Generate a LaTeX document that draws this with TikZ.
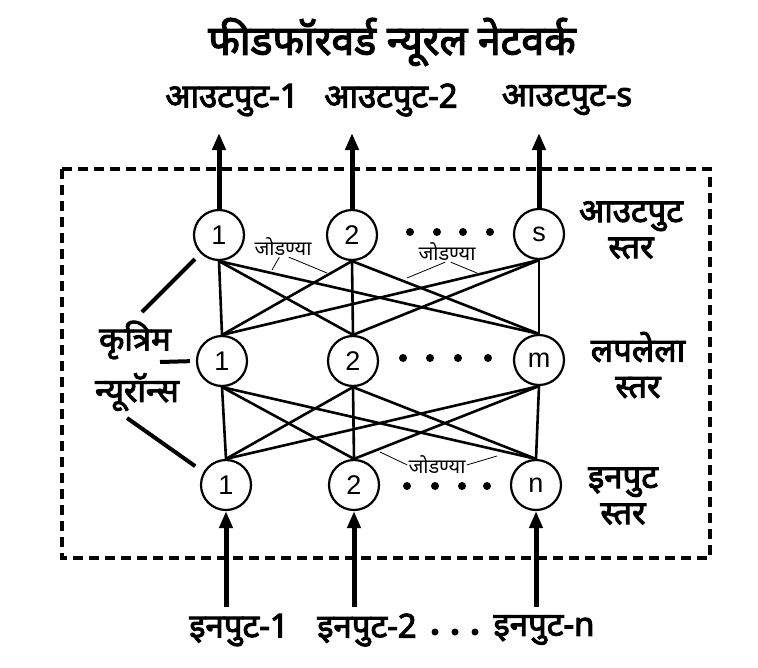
\documentclass[tikz,border=0pt]{standalone}
\usepackage{fontspec}
\setmainfont{Noto Sans}[Script=Devanagari,BoldFont=Noto Sans,BoldFeatures={FakeBold=3}]
\newfontfamily\digitfont{Liberation Sans}
\usetikzlibrary{arrows.meta}

\begin{document}
\begin{tikzpicture}[x=1pt,y=-1pt,
		main node/.style={circle,draw,line width=2.2pt,minimum size=50pt,inner sep=0pt,font=\digitfont\fontsize{27}{27}\selectfont},
		big label/.style={font=\bfseries\fontsize{33}{33}\selectfont,inner sep=0pt},
		layer label/.style={font=\bfseries\fontsize{33}{36}\selectfont,align=center,inner sep=0pt},
		small label/.style={font=\fontsize{20}{20}\selectfont,inner sep=1pt},
		link/.style={line width=2.6pt},
		thin link/.style={line width=0.8pt},
		io arrow/.style={-{Triangle[length=17pt,width=13pt]},line width=5pt},
		pointer/.style={line width=4pt}]
		
		\useasboundingbox (0,0) rectangle (758,667);
		
		% frame
		\draw[line width=4.5pt,dash pattern=on 10pt off 6pt] (62,169) rectangle (710,558);
		
		\node[font=\bfseries\fontsize{41}{41}\selectfont] (title) at (392,42) {फीडफॉरवर्ड न्यूरल नेटवर्क};
		
		% neurons
		\node[main node] (o1) at (219,235) {1};
		\node[main node] (o2) at (352,235) {2};
		\node[main node] (os) at (539,234) {s};
		\node[main node] (h1) at (222,361) {1};
		\node[main node] (h2) at (353,361) {2};
		\node[main node] (hm) at (539,360) {m};
		\node[main node] (i1) at (226,485) {1};
		\node[main node] (i2) at (354,485) {2};
		\node[main node] (iN) at (536,485) {n};
		
		\fill (410,232) circle (4pt) (437,232) circle (4pt) (463,232) circle (4pt) (490,232) circle (4pt);
		\fill (403,358) circle (4pt) (430,358) circle (4pt) (458,358) circle (4pt) (488,358) circle (4pt);
		\fill (407,486) circle (4pt) (435,486) circle (4pt) (462,486) circle (4pt) (487,486) circle (4pt);
		
		\path[link]
		(o1.south) edge (h1.north)
		(o1.south) edge (h2.north)
		(o1.south) edge (hm.north)
		(o2.south) edge (h1.north)
		(o2.south) edge (h2.north)
		(o2.south) edge (hm.north)
		(os.south) edge (h1.north)
		(os.south) edge (h2.north)
		(os.south) edge (hm.north)
		(h1.south) edge (i1.north)
		(h1.south) edge (i2.north)
		(h1.south) edge (iN.north)
		(h2.south) edge (i1.north)
		(h2.south) edge (i2.north)
		(h2.south) edge (iN.north)
		(hm.south) edge (i1.north)
		(hm.south) edge (i2.north)
		(hm.south) edge (iN.north);
		
		% outputs and inputs
		\node[big label] (ol1) at (232,100) {आउटपुट-1};
		\node[big label] (ol2) at (391,100) {आउटपुट-2};
		\node[big label] (ols) at (567,100) {आउटपुट-s};
		\coordinate (out1) at (219,133);
		\coordinate (out2) at (352,133);
		\coordinate (outs) at (539,133);
		\draw[io arrow] (o1.north) -- (out1);
		\draw[io arrow] (o2.north) -- (out2);
		\draw[io arrow] (os.north) -- (outs);
		
		\node[big label] (il1) at (239,630) {इनपुट-1};
		\node[big label] (il2) at (367,630) {इनपुट-2};
		\node[big label] (ilN) at (544,630) {इनपुट-n};
		\fill (435,632) circle (3.5pt) (455,632) circle (3.5pt) (475,632) circle (3.5pt);
		\coordinate (in1) at (226,607);
		\coordinate (in2) at (354,607);
		\coordinate (inN) at (536,607);
		\draw[io arrow] (in1) -- (i1.south);
		\draw[io arrow] (in2) -- (i2.south);
		\draw[io arrow] (inN) -- (iN.south);
		
		% layer names
		\node[layer label] (lo) at (631,230) {आउटपुट\\स्तर};
		\node[layer label] (lh) at (638,365) {लपलेला\\स्तर};
		\node[layer label] (li) at (623,496) {इनपुट\\स्तर};
		
		% artificial neurons
		\node[big label] (kr) at (135,340) {कृत्रिम};
		\node[big label] (ny) at (137,392) {न्यूरॉन्स};
		\coordinate (p1) at (142,312);
		\coordinate (p2) at (160,362);
		\coordinate (p3) at (127,418);
		\draw[pointer,shorten >=8pt] (p1) -- (o1.225);
		\draw[pointer,shorten >=6pt] (p2) -- (h1.west);
		\draw[pointer,shorten >=10pt] (p3) -- (i1.150);
		
		% connections
		\node[small label] (j1) at (283,247) {जोडण्या};
		\node[small label] (j2) at (447,252) {जोडण्या};
		\node[small label] (j3) at (437,465) {जोडण्या};
		\coordinate (j1a) at (272,270);
		\coordinate (j1b) at (327,273);
		\coordinate (j2a) at (407,278);
		\coordinate (j2b) at (477,273);
		\coordinate (j3a) at (380,452);
		\coordinate (j3b) at (497,456);
		\draw[thin link] (j1.-110) -- (j1a);
		\draw[thin link] (j1.-60) -- (j1b);
		\draw[thin link] (j2.-100) -- (j2a);
		\draw[thin link] (j2.-70) -- (j2b);
		\draw[thin link] (j3.west) -- (j3a);
		\draw[thin link] (j3.east) -- (j3b);
		\end{tikzpicture}
\end{document}
